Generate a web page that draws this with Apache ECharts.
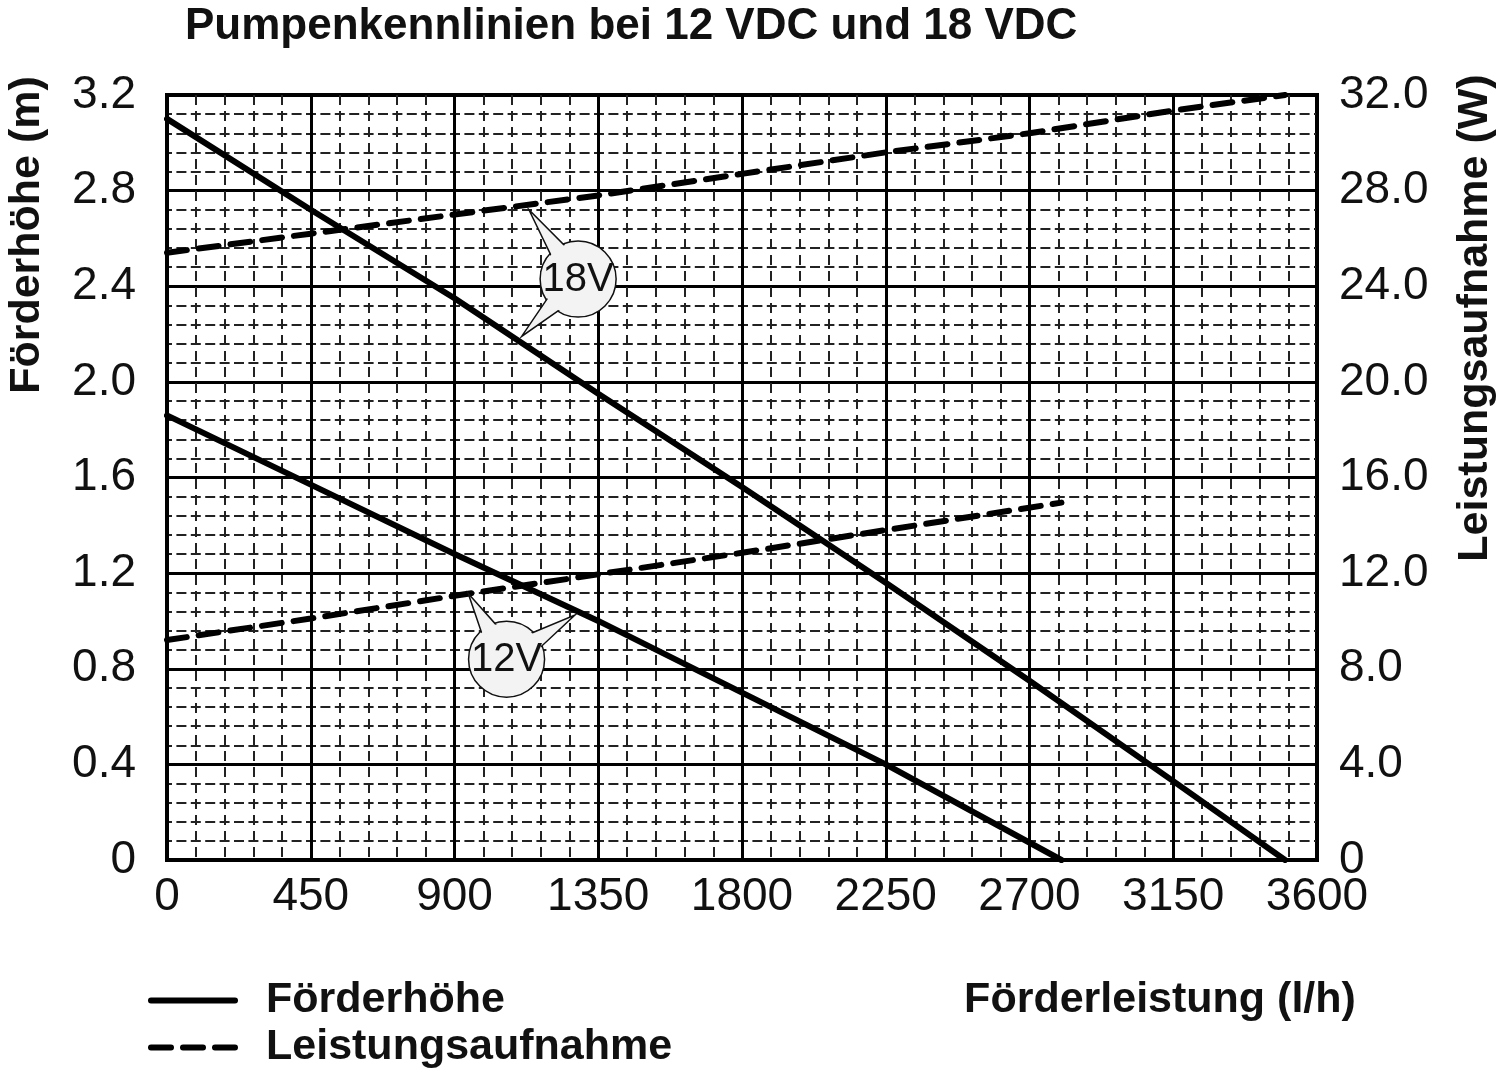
<!DOCTYPE html>
<html>
<head>
<meta charset="utf-8">
<title>Pumpenkennlinien</title>
<script src="https://cdn.jsdelivr.net/npm/echarts@6/dist/echarts.min.js"></script>
<style>
  html, body { margin: 0; padding: 0; background: #fff; }
  #chart { width: 1500px; height: 1074px; }
</style>
</head>
<body>
<div id="chart"></div>
<script>
// values
const flow18 = [0, 450, 900, 1350, 1800, 2250, 2700, 3150, 3500]
const head18 = [3.10, 2.72, 2.35, 1.95, 1.56, 1.16, 0.75, 0.33, 0]
const power18 = [25.4, 26.2, 27.0, 27.8, 28.7, 29.6, 30.4, 31.35, 32.0]

const flow12 = [0, 450, 900, 1350, 1800, 2250, 2800]
const head12 = [1.86, 1.57, 1.28, 1.0, 0.70, 0.40, 0]
const power12 = [9.2, 10.1, 11.05, 11.95, 12.85, 13.8, 14.95]

// callout bubbles: label, centre [flow, head], tips [flow, head]
const bubbleLabels = ['18V', '12V']
const bubbleCentres = [[1287, 2.43], [1063, 0.84]]
const bubbleTips = [
  [[1133, 2.72], [1110, 2.19]],
  [[943, 1.115], [1277, 1.025]]
]

const FONT = '"Liberation Sans", Arial, Helvetica, sans-serif'
const BLACK = '#000'
const DASH = [20, 12]

const pairs = (xs, ys) => xs.map((x, i) => [x, ys[i]])

const chart = echarts.init(document.getElementById('chart'))

function lineSeries(name, axis, data, dashed) {
  return {
    name: name,
    type: 'line',
    yAxisIndex: axis,
    data: data,
    symbol: 'none',
    itemStyle: { color: BLACK },
    lineStyle: { color: BLACK, width: 6, cap: 'round', type: dashed ? DASH : 'solid' },
    z: 5
  }
}

const option = {
  animation: false,
  backgroundColor: '#fff',
  title: {
    text: 'Pumpenkennlinien bei 12 VDC und 18 VDC',
    left: 180,
    top: 0,
    textStyle: { fontFamily: FONT, fontWeight: 'bold', fontSize: 44, color: '#111' }
  },
  legend: {
    orient: 'vertical',
    left: 143,
    top: 974,
    itemWidth: 84,
    itemHeight: 20,
    itemGap: 4,
    data: ['Förderhöhe', 'Leistungsaufnahme'],
    itemStyle: { opacity: 0 },
    lineStyle: { width: 6, color: BLACK, cap: 'round' },
    textStyle: {
      fontFamily: FONT, fontWeight: 'bold', fontSize: 43, color: '#111',
      padding: [0, 0, 0, 26]
    }
  },
  grid: {
    left: 167,
    right: 183,
    top: 95,
    bottom: 214,
    show: true,
    borderColor: BLACK,
    borderWidth: 4,
    backgroundColor: 'transparent'
  },
  xAxis: {
    type: 'value',
    min: 0,
    max: 3600,
    interval: 450,
    axisLine: { show: false },
    axisTick: { show: false },
    axisLabel: {
      margin: 14, fontFamily: FONT, fontSize: 46, color: '#111',
      formatter: v => String(v)
    },
    splitLine: { show: true, lineStyle: { color: BLACK, width: 3 } },
    minorTick: { show: false, splitNumber: 5 },
    minorSplitLine: { show: true, lineStyle: { color: '#222', width: 2, type: [10, 6] } }
  },
  yAxis: [
    {
      type: 'value',
      min: 0,
      max: 3.2,
      interval: 0.4,
      axisLine: { show: false },
      axisTick: { show: false },
      axisLabel: {
        margin: 31,
        fontFamily: FONT, fontSize: 46, color: '#111',
        formatter: v => (v === 0 ? '0' : v.toFixed(1))
      },
      splitLine: { show: true, lineStyle: { color: BLACK, width: 3 } },
      minorTick: { show: false, splitNumber: 5 },
      minorSplitLine: { show: true, lineStyle: { color: '#222', width: 2, type: [10, 4.4], dashOffset: 5 } }
    },
    {
      type: 'value',
      min: 0,
      max: 32,
      interval: 4,
      position: 'right',
      axisLine: { show: false },
      axisTick: { show: false },
      axisLabel: {
        margin: 22,
        fontFamily: FONT, fontSize: 46, color: '#111',
        formatter: v => (v === 0 ? '0' : v.toFixed(1))
      },
      splitLine: { show: false }
    }
  ],
  series: [
    lineSeries('Förderhöhe', 0, pairs(flow18, head18), false),
    lineSeries('Förderhöhe', 0, pairs(flow12, head12), false),
    lineSeries('Leistungsaufnahme', 1, pairs(flow18, power18), true),
    lineSeries('Leistungsaufnahme', 1, pairs(flow12, power12), true)
  ]
}

chart.setOption(option)

// texts and callout bubbles, placed through the axes
function buildGraphics() {
  const toPx = p => chart.convertToPixel({ xAxisIndex: 0, yAxisIndex: 0 }, p)
  const els = [
    {
      type: 'text', x: 27, y: 235, rotation: Math.PI / 2,
      style: {
        text: 'Förderhöhe (m)', font: 'bold 43px ' + FONT, fill: '#111',
        textAlign: 'center', textVerticalAlign: 'middle'
      }
    },
    {
      type: 'text', x: 1475, y: 318, rotation: Math.PI / 2,
      style: {
        text: 'Leistungsaufnahme (W)', font: 'bold 43px ' + FONT, fill: '#111',
        textAlign: 'center', textVerticalAlign: 'middle'
      }
    },
    {
      type: 'text', x: 1160, y: 1000,
      style: {
        text: 'Förderleistung (l/h)', font: 'bold 43px ' + FONT, fill: '#111',
        textAlign: 'center', textVerticalAlign: 'middle'
      }
    }
  ]

  const r = 38
  bubbleLabels.forEach((label, i) => {
    const c = toPx(bubbleCentres[i])
    els.push({
      type: 'circle', shape: { cx: c[0], cy: c[1], r: r },
      style: { fill: '#f3f3f3', stroke: '#111', lineWidth: 1.5 }, z: 100
    })
    bubbleTips[i].forEach(tp => {
      const t = toPx(tp)
      const a = Math.atan2(t[1] - c[1], t[0] - c[0])
      const rr = r - 4
      els.push({
        type: 'polygon',
        shape: {
          points: [
            [c[0] + rr * Math.cos(a - 0.26), c[1] + rr * Math.sin(a - 0.26)],
            t,
            [c[0] + rr * Math.cos(a + 0.26), c[1] + rr * Math.sin(a + 0.26)]
          ]
        },
        style: { fill: '#f3f3f3', stroke: '#111', lineWidth: 1.5 },
        z: 101
      })
    })
    els.push({
      type: 'circle', shape: { cx: c[0], cy: c[1], r: r - 1.5 },
      style: { fill: '#f3f3f3', stroke: null }, z: 102
    })
    els.push({
      type: 'text', x: c[0], y: c[1] + 1,
      style: {
        text: label, font: '40px ' + FONT, fill: '#111',
        textAlign: 'center', textVerticalAlign: 'middle'
      },
      z: 103
    })
  })
  chart.setOption({ graphic: els })
}

buildGraphics()
</script>
</body>
</html>
